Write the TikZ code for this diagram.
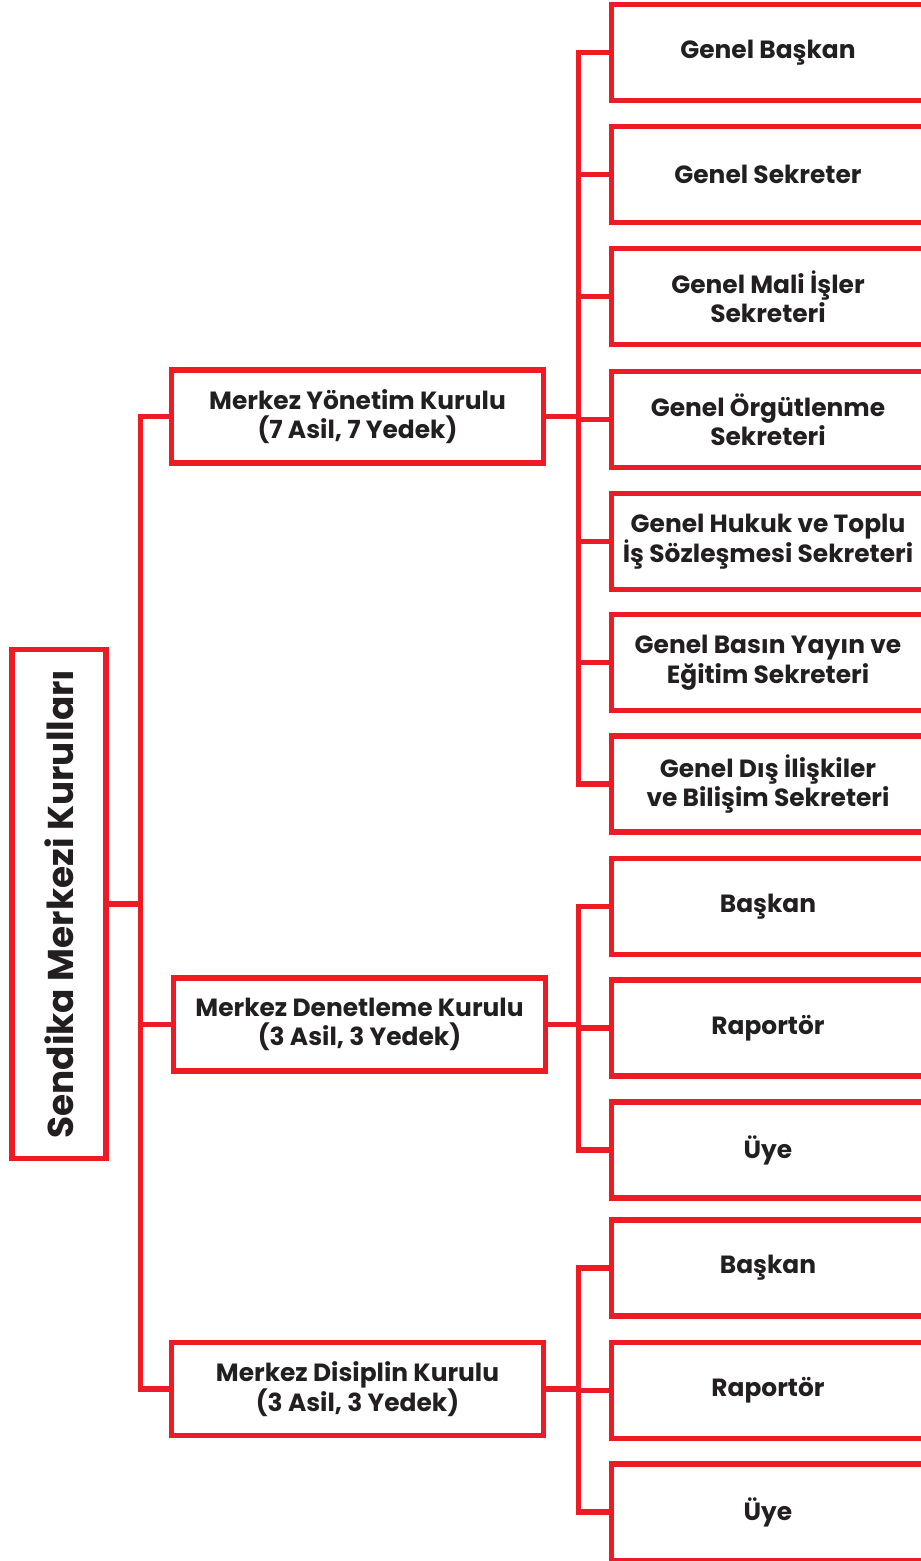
\documentclass[tikz,border=0pt]{standalone}
\usepackage{fontspec}
\setmainfont{Poppins}
\usepackage{graphicx}
\usepackage{xcolor}
\usetikzlibrary{calc}
\definecolor{kirmizi}{HTML}{ED1C24}
\definecolor{yazi}{HTML}{231F20}

\begin{document}
\begin{tikzpicture}[x=0.025cm,y=-0.025cm,
    every node/.style={draw=kirmizi,line width=3.6pt,text=yazi,align=center,inner sep=0,
        font=\fontsize{17.7}{21}\selectfont\bfseries},
    kurul/.style={minimum width=9.275cm,minimum height=2.325cm},
    gorev/.style={minimum width=7.8cm,minimum height=2.4cm},
    bag/.style={draw=kirmizi,line width=3.6pt}]
    \useasboundingbox (0,0) rectangle (921,1561);
    \clip (0,0) rectangle (921,1561);

    \node[minimum width=2.35cm,minimum height=12.7cm,font=\fontsize{25.5}{30}\selectfont\bfseries](kok) at (59,904) {\rotatebox{90}{Sendika Merkezi Kurulları}};

    \node[kurul](myk) at (357.5,416.5) {Merkez Yönetim Kurulu\\(7 Asil, 7 Yedek)};
    \node[kurul](mdk) at (359.5,1024.5) {Merkez Denetleme Kurulu\\(3 Asil, 3 Yedek)};
    \node[kurul](mdisk) at (357.5,1389) {Merkez Disiplin Kurulu\\(3 Asil, 3 Yedek)};

    \node[gorev](gb) at (768,52.5) {Genel Başkan};
    \node[gorev](gs) at (768,174.5) {Genel Sekreter};
    \node[gorev](gm) at (768,296.5) {Genel Mali İşler\\Sekreteri};
    \node[gorev](go) at (768,419.5) {Genel Örgütlenme\\Sekreteri};
    \node[gorev](gh) at (768,541.5) {Genel Hukuk ve Toplu\\İş Sözleşmesi Sekreteri};
    \node[gorev](gy) at (768,662.5) {Genel Basın Yayın ve\\Eğitim Sekreteri};
    \node[gorev](gd) at (768,784) {Genel Dış İlişkiler\\ve Bilişim Sekreteri};

    \node[gorev](db) at (768,906.5) {Başkan};
    \node[gorev](dr) at (768,1028) {Raportör};
    \node[gorev](du) at (768,1150) {Üye};

    \node[gorev](sb) at (768,1268) {Başkan};
    \node[gorev](sr) at (768,1390.5) {Raportör};
    \node[gorev](su) at (768,1512) {Üye};

    \coordinate (j0) at ($(kok.east)+(32,0)$);
    \draw[bag] (kok.east) -- (j0);
    \foreach \n in {myk,mdk,mdisk} \draw[bag] (j0) |- (\n.west);

    \coordinate (j1) at ($(myk.east)+(33,0)$);
    \draw[bag] (myk.east) -- (j1);
    \foreach \n in {gb,gs,gm,go,gh,gy,gd} \draw[bag] (j1) |- (\n.west);

    \coordinate (j2) at ($(mdk.east)+(31,0)$);
    \draw[bag] (mdk.east) -- (j2);
    \foreach \n in {db,dr,du} \draw[bag] (j2) |- (\n.west);

    \coordinate (j3) at ($(mdisk.east)+(33,0)$);
    \draw[bag] (mdisk.east) -- (j3);
    \foreach \n in {sb,sr,su} \draw[bag] (j3) |- (\n.west);
\end{tikzpicture}
\end{document}
